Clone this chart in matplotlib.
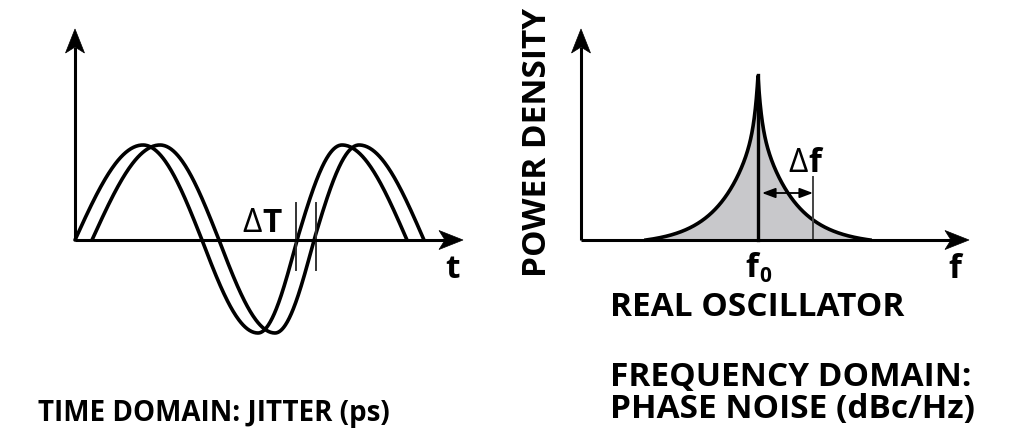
import numpy as np
import matplotlib.pyplot as plt
from matplotlib.patches import Polygon

plt.rcParams['font.family'] = ['Open Sans', 'DejaVu Sans']

# ── Data (drawing units, 1 unit = 100 px of the original) ─────
# time domain: quarter-period knots of the clean sine and its levels
wave_knots = [0.0, 0.68, 1.27, 1.83, 2.22, 2.67, 3.32]
wave_levels = [0.0, 0.95, 0.0, -0.93, 0.0, 0.95, 0.0]
jitter_shift = 0.17
dT_marks = [2.21, 2.41]
dT_span = (-0.30, 0.37)

# frequency domain: spectrum around the carrier
f0 = 1.77
peak_top = 1.65
skirt_half_width = 1.12
skirt_height = 1.20
skirt_decay = 0.34
cusp_height = 0.44
cusp_width = 0.035
delta_f = 2.32
delta_f_top = 0.63
delta_f_arrow_y = 0.47

axis_len_x = 3.88
axis_len_y = 2.11

FS_TITLE = 20
FS = 24
INK = "black"


def quarter_wave(knots, levels, n=80):
    xs, ys = [], []
    for i in range(len(knots) - 1):
        u = np.linspace(0, 1, n)
        a, b = levels[i], levels[i + 1]
        if a == 0:
            y = b * np.sin(u * np.pi / 2)
        else:
            y = a * np.cos(u * np.pi / 2)
        xs.append(knots[i] + u * (knots[i + 1] - knots[i]))
        ys.append(y)
    return np.concatenate(xs), np.concatenate(ys)


def axis_arrows(ax, head_len=0.24, head_half=0.095, notch=0.06):
    # axis lines plus stealth-style heads (units are equal in x and y)
    ax.plot([0, axis_len_x - head_len + notch], [0, 0], color=INK, lw=2.2,
            solid_capstyle="butt", clip_on=False)
    ax.plot([0, 0], [0, axis_len_y - head_len + notch], color=INK, lw=2.2,
            solid_capstyle="butt", clip_on=False)
    L, Y = axis_len_x, axis_len_y
    hx = [(L, 0), (L - head_len, head_half), (L - head_len + notch, 0), (L - head_len, -head_half)]
    hy = [(0, Y), (head_half, Y - head_len), (0, Y - head_len + notch), (-head_half, Y - head_len)]
    for pts in (hx, hy):
        ax.add_patch(Polygon(pts, closed=True, color=INK, lw=0.5, clip_on=False))


W, H = 1020, 438
fig = plt.figure(figsize=(W / 100, H / 100), dpi=100)
fig.patch.set_facecolor("white")

# both panels: origin 240 px from top, 100 px per unit
ax1 = fig.add_axes([75 / W, 1 - 345 / H, 400 / W, 325 / H])
ax2 = fig.add_axes([581 / W, 1 - 345 / H, 400 / W, 325 / H])
for ax in (ax1, ax2):
    ax.set_xlim(0, 4.0)
    ax.set_ylim(-1.05, 2.2)
    ax.axis("off")

# ── Time domain ──────────────────────────────────────────────
tx, ty = quarter_wave(wave_knots, wave_levels)
ax1.plot(tx, ty, color=INK, lw=2.6, solid_capstyle="round", clip_on=False)
ax1.plot(tx + jitter_shift, ty, color=INK, lw=2.6, solid_capstyle="round", clip_on=False)
for x in dT_marks:
    ax1.plot([x, x], dT_span, color="#333333", lw=1.4)
axis_arrows(ax1)

ax1.text(1.87, 0.08, "Δ", fontsize=FS, ha="right", va="baseline")
ax1.text(1.87, 0.08, "T", fontsize=FS, fontweight="bold", ha="left", va="baseline")
ax1.text(3.78, -0.38, "t", fontsize=FS, fontweight="bold", ha="center", va="baseline")
ax1.text(-0.37, -1.81, "TIME DOMAIN: JITTER (ps)", fontsize=FS_TITLE, fontweight="bold",
         ha="left", va="baseline")

# ── Frequency domain ─────────────────────────────────────────
d = np.linspace(-skirt_half_width, skirt_half_width, 1601)
r = np.abs(d)
tail = np.exp(-skirt_half_width / skirt_decay)
psd = skirt_height * (np.exp(-r / skirt_decay) - tail) / (1 - tail) \
    + cusp_height * np.exp(-r / cusp_width)
fx = f0 + d
ax2.fill_between(fx, 0, psd, color="#c8c8cb", lw=0)
ax2.plot(fx, psd, color=INK, lw=2.6)
ax2.plot([f0, f0], [0, peak_top], color=INK, lw=2.4)
ax2.plot([delta_f, delta_f], [0, delta_f_top], color="#444444", lw=1.4)
ax2.annotate("", xy=(f0 + 0.04, delta_f_arrow_y), xytext=(delta_f, delta_f_arrow_y),
             arrowprops=dict(arrowstyle="<|-|>,head_length=0.8,head_width=0.3",
                             lw=1.3, color=INK, mutation_scale=10, shrinkA=0, shrinkB=0))
axis_arrows(ax2)

ax2.text(2.27, 0.68, "Δ", fontsize=FS, ha="right", va="baseline")
ax2.text(2.27, 0.68, "f", fontsize=FS, fontweight="bold", ha="left", va="baseline")
ax2.text(1.77, -0.37, "f", fontsize=FS, fontweight="bold", ha="right", va="baseline")
ax2.text(1.78, -0.42, "0", fontsize=15, fontweight="bold", ha="left", va="baseline")
ax2.text(3.74, -0.38, "f", fontsize=FS, fontweight="bold", ha="center", va="baseline")
ax2.text(-0.43, 0.98, "POWER DENSITY", fontsize=FS, fontweight="bold", rotation=90,
         ha="center", va="center")
ax2.text(0.29, -0.76, "REAL OSCILLATOR", fontsize=FS, fontweight="bold",
         ha="left", va="baseline")
ax2.text(0.29, -1.78, "FREQUENCY DOMAIN:\nPHASE NOISE (dBc/Hz)", fontsize=FS,
         fontweight="bold", ha="left", va="baseline", linespacing=0.97)

fig.savefig("out.png", dpi=100, facecolor="white")
